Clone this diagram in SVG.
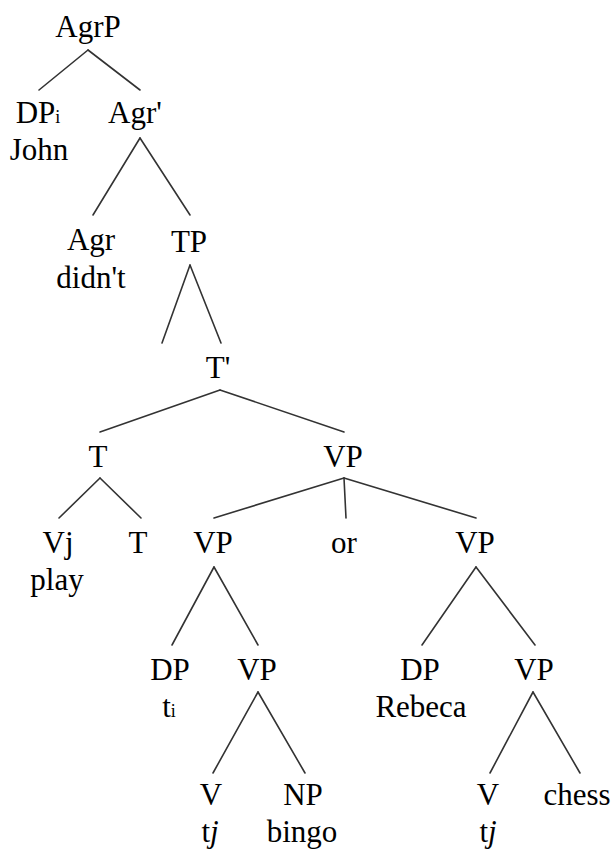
<svg xmlns="http://www.w3.org/2000/svg" width="613" height="850" viewBox="0 0 613 850">
  <rect width="613" height="850" fill="#fff"/>

  <!-- tree branches -->
  <g id="edges" stroke="#333" stroke-width="1.6" stroke-linecap="round">
    <line x1="88" y1="50" x2="39" y2="90"/>
    <line x1="88" y1="50" x2="140" y2="90"/>
    <line x1="140" y1="138" x2="93" y2="215"/>
    <line x1="140" y1="138" x2="190" y2="215"/>
    <line x1="190" y1="265" x2="162" y2="343"/>
    <line x1="190" y1="265" x2="221" y2="343"/>
    <line x1="220" y1="390" x2="100" y2="432"/>
    <line x1="220" y1="390" x2="344" y2="432"/>
    <line x1="100" y1="478" x2="59" y2="518"/>
    <line x1="100" y1="478" x2="141" y2="518"/>
    <line x1="344" y1="478" x2="214" y2="518"/>
    <line x1="344" y1="478" x2="346" y2="518"/>
    <line x1="344" y1="478" x2="476" y2="518"/>
    <line x1="214" y1="567" x2="172" y2="645"/>
    <line x1="214" y1="567" x2="258" y2="645"/>
    <line x1="476" y1="567" x2="422" y2="645"/>
    <line x1="476" y1="567" x2="535" y2="645"/>
    <line x1="258" y1="692" x2="213" y2="773"/>
    <line x1="258" y1="692" x2="305" y2="773"/>
    <line x1="533" y1="692" x2="490" y2="773"/>
    <line x1="533" y1="692" x2="580" y2="773"/>
  </g>

  <!-- node labels -->
  <g id="nodes" font-family="Liberation Serif" font-size="31" text-anchor="middle" fill="#000">
    <g id="agrp"><text x="88" y="37">AgrP</text></g>
    <g id="dp-john"><text x="38" y="123">DP<tspan font-size="18">i</tspan></text><text x="39" y="160">John</text></g>
    <g id="agr-bar"><text x="135" y="123">Agr'</text></g>
    <g id="agr"><text x="91" y="250">Agr</text><text x="91" y="288">didn't</text></g>
    <g id="tp"><text x="189" y="252">TP</text></g>
    <g id="t-bar"><text x="218" y="378">T'</text></g>
    <g id="t"><text x="98" y="467">T</text></g>
    <g id="vp-top"><text x="343" y="467">VP</text></g>
    <g id="v-play"><text x="58" y="553">Vj</text><text x="57" y="590">play</text></g>
    <g id="t-head"><text x="138" y="553">T</text></g>
    <g id="vp-left"><text x="213" y="553">VP</text></g>
    <g id="conj-or"><text x="344" y="553">or</text></g>
    <g id="vp-right"><text x="475" y="553">VP</text></g>
    <g id="dp-trace"><text x="170" y="680">DP</text><text x="169" y="717">t<tspan font-size="18">i</tspan></text></g>
    <g id="vp-bingo"><text x="257" y="680">VP</text></g>
    <g id="dp-rebeca"><text x="420" y="680">DP</text><text x="421" y="717">Rebeca</text></g>
    <g id="vp-chess"><text x="534" y="680">VP</text></g>
    <g id="v-trace-1"><text x="211" y="805">V</text><text x="210" y="842">t<tspan font-style="italic">j</tspan></text></g>
    <g id="np-bingo"><text x="303" y="805">NP</text><text x="302" y="842">bingo</text></g>
    <g id="v-trace-2"><text x="488" y="805">V</text><text x="488" y="842">t<tspan font-style="italic">j</tspan></text></g>
    <g id="chess"><text x="577" y="805">chess</text></g>
  </g>
</svg>
